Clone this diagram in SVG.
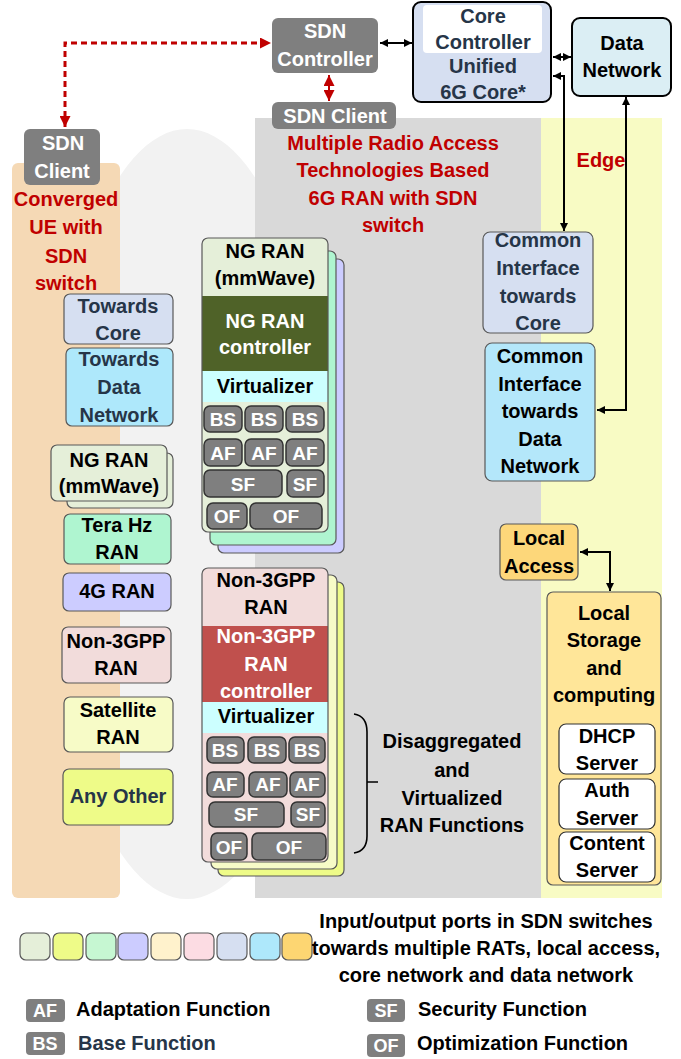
<svg xmlns="http://www.w3.org/2000/svg" width="681" height="1059" viewBox="0 0 681 1059">
  <defs>
    <style>
      .t { font-family: "Liberation Sans", Arial, sans-serif; font-weight: bold; font-size: 20px; text-anchor: middle; }
      .l { text-anchor: start; }
      .red { fill: #c00000; }
      .slate { fill: #263548; }
      .w { fill: #ffffff; }
      .k { fill: #000000; }
      .port { stroke: #595959; stroke-width: 1.2; }
      .fn { fill: #7f7f7f; stroke: #333333; stroke-width: 1.5; }
      .fnt { font-size: 19px; fill: #ffffff; }
      .lgt { font-size: 18px; fill: #ffffff; }
      .gray { fill: #7f7f7f; }
      .conn { stroke: #000000; stroke-width: 2; fill: none; }
      .rconn { stroke: #c00000; fill: none; }
    </style>
    <marker id="ah" viewBox="0 0 10 10" refX="10" refY="5" markerWidth="9" markerHeight="8" markerUnits="userSpaceOnUse" orient="auto-start-reverse">
      <path d="M0,0 L10,5 L0,10 z" fill="#000"/>
    </marker>
    <marker id="rah" viewBox="0 0 10 10" refX="10" refY="5" markerWidth="14" markerHeight="11" markerUnits="userSpaceOnUse" orient="auto-start-reverse">
      <path d="M0,0 L10,5 L0,10 z" fill="#c00000"/>
    </marker>
  </defs>

  <!-- background regions -->
  <g id="background">
    <ellipse cx="187" cy="514" rx="140" ry="385" fill="#f2f2f2"/>
    <rect x="255" y="118" width="286" height="780" fill="#d9d9d9"/>
    <rect x="541" y="118" width="121" height="780" fill="#f8fbc4"/>
    <rect x="12" y="163" width="108" height="735" rx="6" fill="#f5d9b5"/>
  </g>

  <!-- connectors -->
  <g id="connectors">
    <path class="rconn" d="M65,127 V43 H271" stroke-width="3" stroke-dasharray="6,4" marker-start="url(#rah)" marker-end="url(#rah)"/>
    <path class="rconn" d="M329,75 V101" stroke-width="2" marker-start="url(#rah)" marker-end="url(#rah)"/>
    <path class="conn" d="M380,43 H412" marker-start="url(#ah)" marker-end="url(#ah)"/>
    <path class="conn" d="M553,57 H571" marker-start="url(#ah)" marker-end="url(#ah)"/>
    <path class="conn" d="M553,76 H564 V231" marker-start="url(#ah)" marker-end="url(#ah)"/>
    <path class="conn" d="M626,97 V410 H597" marker-start="url(#ah)" marker-end="url(#ah)"/>
    <path class="conn" d="M580,552 H610 V591" marker-start="url(#ah)" marker-end="url(#ah)"/>
  </g>

  <!-- SDN control plane -->
  <g id="sdn-client-ue">
    <rect x="24" y="129" width="76" height="56" rx="6" class="gray"/>
    <text class="t w" x="63" y="150">SDN</text>
    <text class="t w" x="62" y="178">Client</text>
  </g>
  <g id="sdn-controller">
    <rect x="272" y="18" width="106" height="55" rx="6" class="gray"/>
    <text class="t w" x="325" y="38">SDN</text>
    <text class="t w" x="325" y="66">Controller</text>
  </g>
  <g id="sdn-client-ran">
    <rect x="272" y="102" width="124" height="27" rx="6" class="gray"/>
    <text class="t w" x="335" y="123">SDN Client</text>
  </g>

  <!-- core and data network -->
  <g id="core">
    <rect x="413" y="2" width="138" height="100" rx="8" fill="#d6dff1" stroke="#000" stroke-width="2"/>
    <rect x="423" y="5" width="119" height="48" rx="4" fill="#ffffff"/>
    <text class="t slate" x="483" y="23">Core</text>
    <text class="t slate" x="483" y="49">Controller</text>
    <text class="t slate" x="483" y="73">Unified</text>
    <text class="t slate" x="483" y="99">6G Core*</text>
  </g>
  <g id="data-network">
    <rect x="572" y="18" width="99" height="78" rx="8" fill="#dbeef4" stroke="#000" stroke-width="2"/>
    <text class="t k" x="622" y="50">Data</text>
    <text class="t k" x="622" y="77">Network</text>
  </g>

  <!-- region titles -->
  <g id="ran-title">
    <text class="t red" x="393" y="150">Multiple Radio Access</text>
    <text class="t red" x="393" y="177">Technologies Based</text>
    <text class="t red" x="393" y="205">6G RAN with SDN</text>
    <text class="t red" x="393" y="232">switch</text>
  </g>
  <g id="ue-title">
    <text class="t red" x="66" y="206">Converged</text>
    <text class="t red" x="66" y="234">UE with</text>
    <text class="t red" x="66" y="263">SDN</text>
    <text class="t red" x="66" y="290">switch</text>
  </g>
  <g id="edge-title">
    <text class="t red" x="601" y="167">Edge</text>
  </g>

  <!-- UE ports -->
  <g id="ue-towards-core">
    <rect x="64" y="294" width="109" height="50" rx="6" fill="#d6dff1" class="port"/>
    <text class="t slate" x="118" y="313">Towards</text>
    <text class="t slate" x="118" y="340">Core</text>
  </g>
  <g id="ue-towards-dn">
    <rect x="66" y="348" width="107" height="78" rx="6" fill="#aee8fb" class="port"/>
    <text class="t slate" x="119" y="366">Towards</text>
    <text class="t slate" x="119" y="394">Data</text>
    <text class="t slate" x="119" y="422">Network</text>
  </g>
  <g id="ue-ngran">
    <rect x="67" y="453" width="106" height="55" rx="6" fill="#e5efd9" class="port"/>
    <rect x="51" y="445" width="116" height="56" rx="6" fill="#e5efd9" class="port"/>
    <text class="t k" x="109" y="467">NG RAN</text>
    <text class="t k" x="109" y="493">(mmWave)</text>
  </g>
  <g id="ue-terahz">
    <rect x="64" y="514" width="107" height="50" rx="6" fill="#aff5d0" class="port"/>
    <text class="t k" x="117" y="532">Tera Hz</text>
    <text class="t k" x="117" y="559">RAN</text>
  </g>
  <g id="ue-4g">
    <rect x="63" y="573" width="108" height="38" rx="6" fill="#ccccff" class="port"/>
    <text class="t k" x="117" y="598">4G RAN</text>
  </g>
  <g id="ue-non3gpp">
    <rect x="62" y="627" width="109" height="56" rx="6" fill="#f2dcdb" class="port"/>
    <text class="t k" x="116" y="648">Non-3GPP</text>
    <text class="t k" x="116" y="675">RAN</text>
  </g>
  <g id="ue-satellite">
    <rect x="64" y="697" width="109" height="55" rx="6" fill="#f7fbc7" class="port"/>
    <text class="t k" x="118" y="717">Satellite</text>
    <text class="t k" x="118" y="744">RAN</text>
  </g>
  <g id="ue-any-other">
    <rect x="63" y="769" width="110" height="56" rx="6" fill="#eefb88" class="port"/>
    <text class="t slate" x="118" y="803">Any Other</text>
  </g>

  <!-- NG RAN stack -->
  <g id="ngran-stack">
    <rect x="218" y="259" width="126" height="294" rx="6" fill="#ccccff" class="port"/>
    <rect x="210" y="251" width="126" height="294" rx="6" fill="#aff5d0" class="port"/>
    <rect x="202" y="238" width="126" height="294" rx="6" fill="#e5efd9"/>
    <rect x="202" y="296" width="126" height="75" fill="#4f6228"/>
    <rect x="202" y="371" width="126" height="31" fill="#ccffff"/>
    <rect x="202" y="238" width="126" height="294" rx="6" fill="none" class="port"/>
    <text class="t k" x="265" y="258">NG RAN</text>
    <text class="t k" x="265" y="285">(mmWave)</text>
    <text class="t w" x="265" y="328">NG RAN</text>
    <text class="t w" x="265" y="354">controller</text>
    <text class="t k" x="265" y="393">Virtualizer</text>
    <rect x="204" y="406" width="38" height="26" rx="6" class="fn"/>
    <rect x="245" y="406" width="38" height="26" rx="6" class="fn"/>
    <rect x="286" y="406" width="38" height="26" rx="6" class="fn"/>
    <text class="t fnt" x="223" y="426">BS</text>
    <text class="t fnt" x="264" y="426">BS</text>
    <text class="t fnt" x="305" y="426">BS</text>
    <rect x="204" y="439" width="38" height="27" rx="6" class="fn"/>
    <rect x="245" y="439" width="38" height="27" rx="6" class="fn"/>
    <rect x="286" y="439" width="38" height="27" rx="6" class="fn"/>
    <text class="t fnt" x="223" y="460">AF</text>
    <text class="t fnt" x="264" y="460">AF</text>
    <text class="t fnt" x="305" y="460">AF</text>
    <rect x="204" y="470" width="78" height="27" rx="6" class="fn"/>
    <rect x="287" y="470" width="37" height="27" rx="6" class="fn"/>
    <text class="t fnt" x="243" y="491">SF</text>
    <text class="t fnt" x="305" y="491">SF</text>
    <rect x="207" y="503" width="40" height="26" rx="6" class="fn"/>
    <rect x="250" y="503" width="72" height="26" rx="6" class="fn"/>
    <text class="t fnt" x="227" y="523">OF</text>
    <text class="t fnt" x="286" y="523">OF</text>
  </g>

  <!-- Non-3GPP RAN stack -->
  <g id="non3gpp-stack">
    <rect x="218" y="582" width="126" height="294" rx="6" fill="#eefb88" class="port"/>
    <rect x="211" y="575" width="126" height="294" rx="6" fill="#f7fbc7" class="port"/>
    <rect x="202" y="568" width="126" height="294" rx="6" fill="#f2dcdb"/>
    <rect x="202" y="626" width="126" height="76" fill="#c0504d"/>
    <rect x="202" y="702" width="126" height="31" fill="#ccffff"/>
    <rect x="202" y="568" width="126" height="294" rx="6" fill="none" class="port"/>
    <text class="t k" x="266" y="587">Non-3GPP</text>
    <text class="t k" x="266" y="614">RAN</text>
    <text class="t w" x="266" y="643">Non-3GPP</text>
    <text class="t w" x="266" y="671">RAN</text>
    <text class="t w" x="266" y="698">controller</text>
    <text class="t k" x="266" y="723">Virtualizer</text>
    <rect x="207" y="737" width="37" height="26" rx="6" class="fn"/>
    <rect x="248" y="737" width="38" height="26" rx="6" class="fn"/>
    <rect x="289" y="737" width="36" height="26" rx="6" class="fn"/>
    <text class="t fnt" x="225" y="757">BS</text>
    <text class="t fnt" x="267" y="757">BS</text>
    <text class="t fnt" x="307" y="757">BS</text>
    <rect x="207" y="772" width="37" height="25" rx="6" class="fn"/>
    <rect x="249" y="772" width="38" height="25" rx="6" class="fn"/>
    <rect x="290" y="772" width="35" height="25" rx="6" class="fn"/>
    <text class="t fnt" x="225" y="791">AF</text>
    <text class="t fnt" x="268" y="791">AF</text>
    <text class="t fnt" x="307" y="791">AF</text>
    <rect x="209" y="802" width="75" height="25" rx="6" class="fn"/>
    <rect x="291" y="802" width="34" height="25" rx="6" class="fn"/>
    <text class="t fnt" x="246" y="821">SF</text>
    <text class="t fnt" x="308" y="821">SF</text>
    <rect x="211" y="833" width="36" height="27" rx="6" class="fn"/>
    <rect x="252" y="833" width="74" height="27" rx="6" class="fn"/>
    <text class="t fnt" x="229" y="854">OF</text>
    <text class="t fnt" x="289" y="854">OF</text>
  </g>

  <!-- brace and its label -->
  <g id="ran-functions-label">
    <path d="M354,714 Q367,716 367,732 V836 Q367,851 354,853 M367,782 H378" fill="none" stroke="#000" stroke-width="1.6"/>
    <text class="t k" x="452" y="748">Disaggregated</text>
    <text class="t k" x="452" y="777">and</text>
    <text class="t k" x="452" y="805">Virtualized</text>
    <text class="t k" x="452" y="832">RAN Functions</text>
  </g>

  <!-- common interfaces -->
  <g id="ci-core">
    <rect x="483" y="232" width="110" height="101" rx="7" fill="#d6dff1" class="port"/>
    <text class="t slate" x="538" y="247">Common</text>
    <text class="t slate" x="538" y="275">Interface</text>
    <text class="t slate" x="538" y="303">towards</text>
    <text class="t slate" x="538" y="330">Core</text>
  </g>
  <g id="ci-dn">
    <rect x="485" y="343" width="110" height="138" rx="7" fill="#b4e7fa" class="port"/>
    <text class="t k" x="540" y="363">Common</text>
    <text class="t k" x="540" y="391">Interface</text>
    <text class="t k" x="540" y="418">towards</text>
    <text class="t k" x="540" y="446">Data</text>
    <text class="t k" x="540" y="473">Network</text>
  </g>

  <!-- edge services -->
  <g id="local-access">
    <rect x="500" y="524" width="78" height="56" rx="6" fill="#fdd77a" class="port"/>
    <text class="t k" x="539" y="545">Local</text>
    <text class="t k" x="539" y="573">Access</text>
  </g>
  <g id="local-storage">
    <rect x="547" y="592" width="114" height="293" rx="6" fill="#ffe699" class="port"/>
    <text class="t k" x="604" y="620">Local</text>
    <text class="t k" x="604" y="647">Storage</text>
    <text class="t k" x="604" y="675">and</text>
    <text class="t k" x="604" y="702">computing</text>
  </g>
  <g id="dhcp-server">
    <rect x="559" y="724" width="96" height="50" rx="7" fill="#fff" stroke="#333" stroke-width="1.2"/>
    <text class="t k" x="607" y="743">DHCP</text>
    <text class="t k" x="607" y="770">Server</text>
  </g>
  <g id="auth-server">
    <rect x="559" y="779" width="96" height="50" rx="7" fill="#fff" stroke="#333" stroke-width="1.2"/>
    <text class="t k" x="607" y="797">Auth</text>
    <text class="t k" x="607" y="825">Server</text>
  </g>
  <g id="content-server">
    <rect x="559" y="832" width="96" height="50" rx="7" fill="#fff" stroke="#333" stroke-width="1.2"/>
    <text class="t k" x="607" y="850">Content</text>
    <text class="t k" x="607" y="877">Server</text>
  </g>

  <!-- legend -->
  <g id="legend-ports">
    <rect x="20" y="933" width="30" height="27" rx="6" fill="#e5efd9" class="port"/>
    <rect x="53" y="933" width="30" height="27" rx="6" fill="#eefb88" class="port"/>
    <rect x="86" y="933" width="30" height="27" rx="6" fill="#c6f7d2" class="port"/>
    <rect x="118" y="933" width="30" height="27" rx="6" fill="#ccccff" class="port"/>
    <rect x="151" y="933" width="30" height="27" rx="6" fill="#fff2cc" class="port"/>
    <rect x="184" y="933" width="30" height="27" rx="6" fill="#fcdce3" class="port"/>
    <rect x="217" y="933" width="30" height="27" rx="6" fill="#d6dff1" class="port"/>
    <rect x="250" y="933" width="30" height="27" rx="6" fill="#aee8fb" class="port"/>
    <rect x="282" y="933" width="30" height="27" rx="6" fill="#fdd672" class="port"/>
    <text class="t k" x="486" y="928">Input/output ports in SDN switches</text>
    <text class="t k" x="486" y="955">towards multiple RATs, local access,</text>
    <text class="t k" x="486" y="982">core network and data network</text>
  </g>
  <g id="legend-functions">
    <rect x="26" y="999" width="39" height="23" rx="4" class="gray"/>
    <text class="t lgt" x="45" y="1017">AF</text>
    <text class="t l k" x="76" y="1016">Adaptation Function</text>
    <rect x="26" y="1032" width="39" height="23" rx="4" class="gray"/>
    <text class="t lgt" x="45" y="1050">BS</text>
    <text class="t l slate" x="78" y="1050">Base Function</text>
    <rect x="367" y="999" width="38" height="23" rx="4" class="gray"/>
    <text class="t lgt" x="386" y="1017">SF</text>
    <text class="t l k" x="418" y="1016">Security Function</text>
    <rect x="367" y="1034" width="38" height="23" rx="4" class="gray"/>
    <text class="t lgt" x="386" y="1052">OF</text>
    <text class="t l k" x="417" y="1050">Optimization Function</text>
  </g>
</svg>
